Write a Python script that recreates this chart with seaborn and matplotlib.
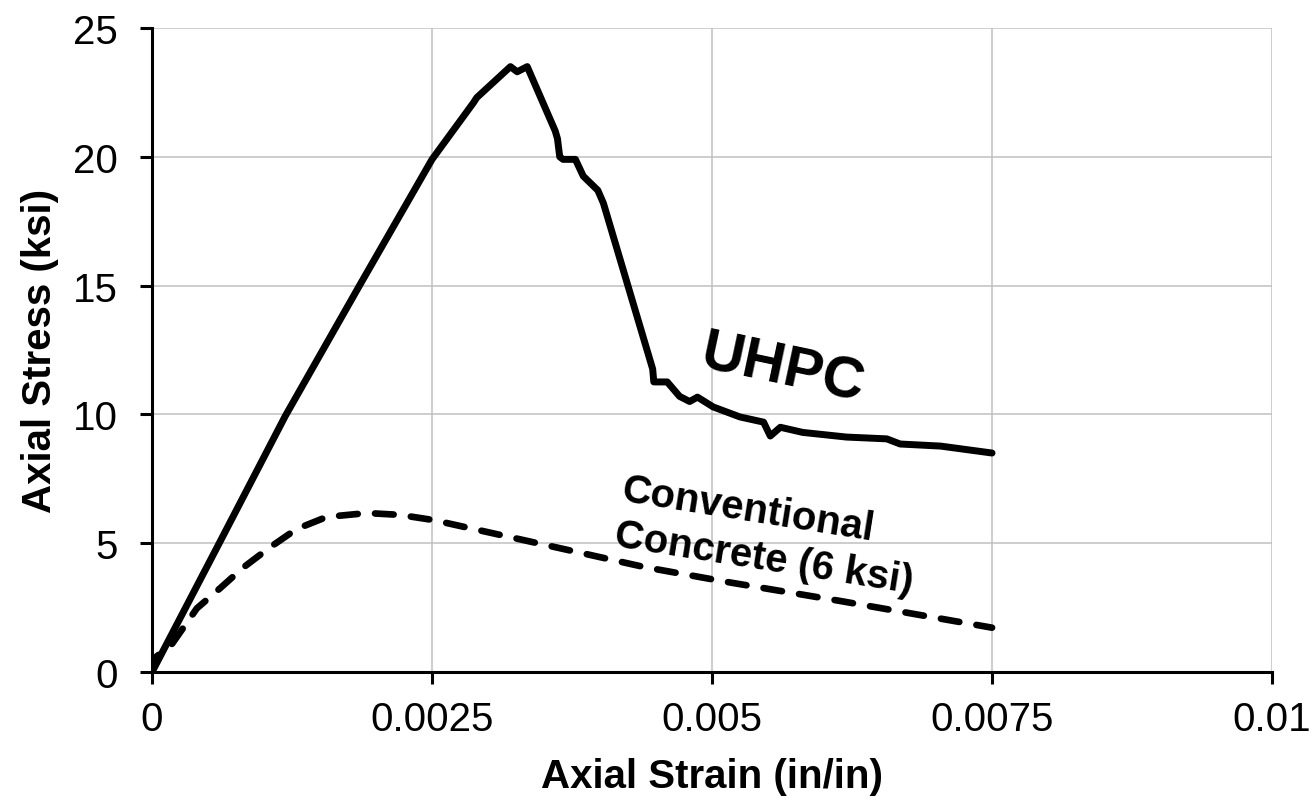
import numpy as np
import pandas as pd
import matplotlib
matplotlib.use('Agg')
import matplotlib.pyplot as plt
import seaborn as sns

# UHPC stress-strain curve
uhpc_strain = [0.0, 0.0006, 0.00119, 0.00186, 0.0025, 0.00287, 0.0029,
               0.0032, 0.00326, 0.00335, 0.0036, 0.00362, 0.00364, 0.00367,
               0.00378, 0.00385, 0.00398, 0.00403, 0.00447, 0.00448, 0.0046,
               0.00471, 0.0048, 0.00487, 0.00501, 0.00525, 0.00546, 0.00552,
               0.00561, 0.00581, 0.0062, 0.00656, 0.00668, 0.00704, 0.0075]
uhpc_stress = [0.0, 5.0, 9.94, 15.06, 19.9, 22.1, 22.3,
               23.5, 23.3, 23.5, 21.0, 20.7, 20.0, 19.9,
               19.9, 19.25, 18.7, 18.2, 11.76, 11.26, 11.26,
               10.7, 10.5, 10.67, 10.29, 9.9, 9.7, 9.16,
               9.5, 9.3, 9.12, 9.05, 8.85, 8.77, 8.5]

# conventional concrete (6 ksi)
conv_strain = [0.0, 0.00004, 0.00018, 0.0004, 0.00061, 0.00081, 0.00105,
               0.00129, 0.00156, 0.00192, 0.00221, 0.00251, 0.0034, 0.0044,
               0.00514, 0.00614, 0.0075]
conv_stress = [0.0, 0.6, 1.1, 2.47, 3.26, 4.04, 4.83,
               5.55, 6.02, 6.17, 6.1, 5.9, 5.04, 4.07,
               3.49, 2.76, 1.72]

x_ticks = [0, 0.0025, 0.005, 0.0075, 0.01]
x_ticklabels = ['0', '0.0025', '0.005', '0.0075', '0.01']
y_ticks = [0, 5, 10, 15, 20, 25]

uhpc = pd.DataFrame({'strain': uhpc_strain, 'stress': uhpc_stress})
conv = pd.DataFrame({'strain': conv_strain, 'stress': conv_stress})

sns.set_style('whitegrid')
plt.rcParams['font.family'] = ['Liberation Sans', 'DejaVu Sans']
plt.rcParams['text.color'] = 'black'
plt.rcParams['axes.labelcolor'] = 'black'
plt.rcParams['xtick.color'] = 'black'
plt.rcParams['ytick.color'] = 'black'

fig = plt.figure(figsize=(13.13, 8.03), dpi=100)
ax = fig.add_axes([0.1158, 0.1619, 0.9688 - 0.1158, 0.9639 - 0.1619])

sns.lineplot(data=uhpc, x='strain', y='stress', sort=False, estimator=None,
             color='black', linewidth=5, ax=ax)
sns.lineplot(data=conv, x='strain', y='stress', sort=False, estimator=None,
             color='black', linewidth=4.8, ax=ax)
ax.lines[0].set_solid_joinstyle('round')
ax.lines[0].set_solid_capstyle('round')
ax.lines[1].set_dashes((2.8, 2.6))
ax.lines[1].set_dash_capstyle('round')

ax.set_xlim(0, 0.01)
ax.set_ylim(0, 25)
ax.set_xticks(x_ticks)
ax.set_xticklabels(x_ticklabels)
ax.set_yticks(y_ticks)
ax.tick_params(labelsize=29, length=8.5, width=2.2, direction='out',
               bottom=True, left=True)
ax.tick_params(axis='x', pad=12)
ax.tick_params(axis='y', pad=16)

ax.grid(True, color='#c0c0c0', linewidth=1.1)
for s in ['top', 'right']:
    ax.spines[s].set_visible(False)
for s in ['left', 'bottom']:
    ax.spines[s].set_color('black')
    ax.spines[s].set_linewidth(2.2)

ax.set_xlabel('Axial Strain (in/in)', fontsize=29, fontweight='bold', labelpad=13)
ax.set_ylabel('Axial Stress (ksi)', fontsize=29, fontweight='bold', labelpad=10)

ax.text(0.00563, 11.75, 'UHPC', fontsize=42, fontweight='bold', rotation=-12,
        ha='center', va='center', rotation_mode='anchor')
ax.text(0.0055, 5.3, 'Conventional\nConcrete (6 ksi)', fontsize=29,
        fontweight='bold', rotation=-9, ha='center', va='center',
        rotation_mode='anchor', linespacing=1.25, multialignment='left')

fig.savefig('out.png', dpi=100)
